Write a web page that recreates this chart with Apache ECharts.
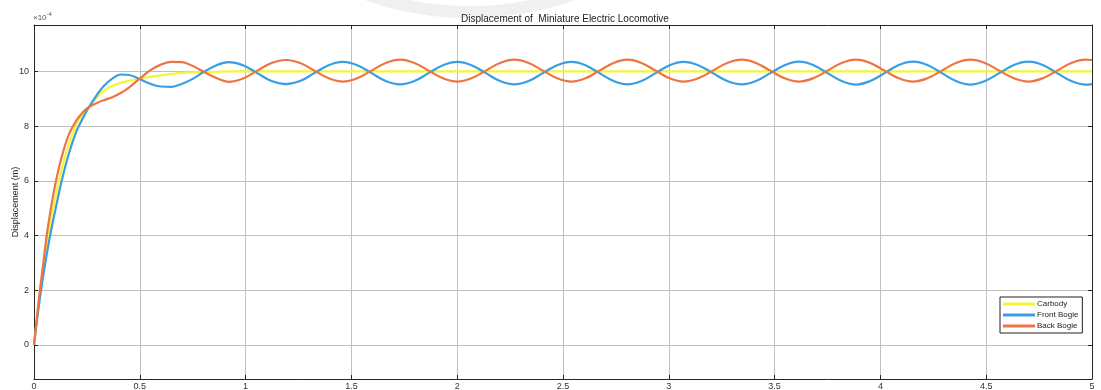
<!DOCTYPE html>
<html>
<head>
<meta charset="utf-8">
<script src="https://cdn.jsdelivr.net/npm/echarts@6/dist/echarts.min.js"></script>
<style>
html,body{margin:0;padding:0;background:#fff;}
#c{width:1101px;height:390px;}
</style>
</head>
<body>
<div id="c"></div>
<script>
// Time samples (s)
const time = [0, 0.01, 0.02, 0.03, 0.045, 0.06, 0.08, 0.10, 0.13, 0.165, 0.20, 0.23, 0.26, 0.295, 0.33, 0.37, 0.41, 0.45, 0.50, 0.55, 0.60, 0.65, 0.70, 0.75, 0.80, 0.86,
  0.92, 0.9875, 1.055, 1.1225, 1.19, 1.2575, 1.325, 1.3925, 1.46, 1.5275, 1.595, 1.6625, 1.73, 1.7975, 1.865, 1.9325,
  2.00, 2.0675, 2.135, 2.2025, 2.27, 2.3375, 2.405, 2.4725, 2.54, 2.606, 2.672, 2.739, 2.805, 2.871, 2.938, 3.004,
  3.07, 3.139, 3.208, 3.276, 3.345, 3.412, 3.48, 3.547, 3.615, 3.682, 3.75, 3.817, 3.885, 3.952, 4.02, 4.087,
  4.155, 4.222, 4.29, 4.357, 4.425, 4.494, 4.562, 4.631, 4.70, 4.767, 4.835, 4.902, 4.97, 5.0];

// Displacement values (x 1e-4 m)
const carbody = [0, 0.68, 1.35, 2.0, 2.85, 3.65, 4.55, 5.35, 6.4, 7.35, 8.05, 8.45, 8.72, 9.03, 9.3, 9.47, 9.59, 9.66, 9.74, 9.8, 9.86, 9.91, 9.95, 9.97, 9.98, 9.99,
  10.0, 10.0, 10.0, 10.0, 10.0, 10.0, 10.0, 10.0, 10.0, 10.0, 10.0, 10.0, 10.0, 10.0, 10.0, 10.0,
  10.0, 10.0, 10.0, 10.0, 10.0, 10.0, 10.0, 10.0, 10.0, 10.0, 10.0, 10.0, 10.0, 10.0, 10.0, 10.0,
  10.0, 10.0, 10.0, 10.0, 10.0, 10.0, 10.0, 10.0, 10.0, 10.0, 10.0, 10.0, 10.0, 10.0, 10.0, 10.0,
  10.0, 10.0, 10.0, 10.0, 10.0, 10.0, 10.0, 10.0, 10.0, 10.0, 10.0, 10.0, 10.0, 10.0];

const frontBogie = [0, 0.65, 1.25, 1.83, 2.6, 3.3, 4.15, 4.9, 5.97, 7.0, 7.8, 8.28, 8.7, 9.12, 9.47, 9.74, 9.89, 9.87, 9.72, 9.55, 9.45, 9.44, 9.55, 9.73, 9.97, 10.22,
  10.34, 10.23, 9.94, 9.65, 9.54, 9.65, 9.94, 10.23, 10.35, 10.23, 9.94, 9.65, 9.53, 9.65, 9.94, 10.23,
  10.35, 10.23, 9.94, 9.65, 9.53, 9.65, 9.94, 10.23, 10.35, 10.23, 9.94, 9.65, 9.53, 9.65, 9.94, 10.23,
  10.35, 10.23, 9.94, 9.65, 9.53, 9.65, 9.94, 10.23, 10.36, 10.24, 9.94, 9.65, 9.52, 9.65, 9.94, 10.24,
  10.36, 10.24, 9.94, 9.65, 9.52, 9.65, 9.94, 10.24, 10.36, 10.24, 9.94, 9.65, 9.52, 9.54];

const backBogie = [0, 0.72, 1.45, 2.13, 3.05, 4.0, 5.0, 5.85, 6.85, 7.7, 8.2, 8.5, 8.7, 8.84, 8.95, 9.06, 9.21, 9.42, 9.74, 10.05, 10.25, 10.35, 10.34, 10.2, 10.0, 9.77,
  9.62, 9.74, 10.03, 10.31, 10.42, 10.31, 10.03, 9.75, 9.63, 9.75, 10.03, 10.31, 10.43, 10.31, 10.03, 9.75,
  9.63, 9.75, 10.03, 10.31, 10.43, 10.31, 10.03, 9.75, 9.63, 9.75, 10.03, 10.31, 10.43, 10.31, 10.03, 9.75,
  9.63, 9.75, 10.03, 10.31, 10.43, 10.31, 10.03, 9.75, 9.63, 9.75, 10.03, 10.31, 10.43, 10.31, 10.03, 9.75,
  9.63, 9.75, 10.03, 10.31, 10.43, 10.31, 10.03, 9.75, 9.63, 9.75, 10.03, 10.31, 10.43, 10.42];

const seriesNames = ['Carbody', 'Front Bogie', 'Back Bogie'];
const seriesColors = ['#f5f536', '#3a9ee4', '#ec7541'];
const seriesValues = [carbody, frontBogie, backBogie];

const FONT = '"Liberation Sans", Arial, sans-serif';
const chart = echarts.init(document.getElementById('c'), null, {renderer: 'canvas'});

const axisLineStyle = {color: '#262626', width: 1};
const gridLineStyle = {color: '#c0c0c0', width: 1};

chart.setOption({
  animation: false,
  backgroundColor: '#ffffff',
  title: {
    text: 'Displacement of  Miniature Electric Locomotive',
    left: 560, top: 9, textAlign: 'center',
    textStyle: {fontFamily: FONT, fontSize: 10, fontWeight: 'normal', color: '#222'}
  },
  legend: {
    data: seriesNames,
    orient: 'vertical',
    left: 1000, top: 297,
    itemWidth: 32, itemHeight: 3, itemGap: 3,
    icon: 'rect',
    padding: [3, 4, 3, 3],
    borderColor: '#222', borderWidth: 1, borderRadius: 0,
    backgroundColor: '#fff',
    textStyle: {fontFamily: FONT, fontSize: 8, color: '#222', padding: [0, 0, 0, -3]}
  },
  grid: {left: 34, right: 9, top: 25, bottom: 11, containLabel: false, outerBoundsMode: 'none'},
  xAxis: [{
    type: 'value', min: 0, max: 5, interval: 0.5,
    axisLine: {show: true, lineStyle: axisLineStyle, onZero: false},
    axisTick: {show: true, inside: true, length: 4, lineStyle: axisLineStyle},
    axisLabel: {fontFamily: FONT, fontSize: 9, color: '#333', margin: 3},
    splitLine: {show: true, lineStyle: gridLineStyle}
  }, {
    type: 'value', min: 0, max: 5, interval: 0.5, position: 'top',
    axisLine: {show: true, lineStyle: axisLineStyle, onZero: false},
    axisTick: {show: true, inside: true, length: 4, lineStyle: axisLineStyle},
    axisLabel: {show: false}, splitLine: {show: false}
  }],
  yAxis: [{
    type: 'value', min: -1.25, max: 11.7, splitNumber: 6, minInterval: 2, maxInterval: 2,
    name: 'Displacement (m)', nameLocation: 'middle', nameGap: 14, nameRotate: 90, nameMoveOverlap: false,
    nameTextStyle: {fontFamily: FONT, fontSize: 9, color: '#222'},
    axisLine: {show: true, lineStyle: axisLineStyle, onZero: false},
    axisTick: {show: true, inside: true, length: 4, lineStyle: axisLineStyle},
    axisLabel: {fontFamily: FONT, fontSize: 9, color: '#333', margin: 5, showMinLabel: false, showMaxLabel: false},
    splitLine: {show: true, lineStyle: gridLineStyle}
  }, {
    type: 'value', min: -1.25, max: 11.7, splitNumber: 6, minInterval: 2, maxInterval: 2, position: 'right',
    axisLine: {show: true, lineStyle: axisLineStyle, onZero: false},
    axisTick: {show: true, inside: true, length: 4, lineStyle: axisLineStyle},
    axisLabel: {show: false}, splitLine: {show: false}
  }],
  graphic: [{
    type: 'arc', silent: true, z: -1,
    shape: {cx: 470, cy: -300, r: 312, startAngle: Math.PI * 0.22, endAngle: Math.PI * 0.80},
    style: {stroke: '#f0f0f0', lineWidth: 12, fill: null}
  }, {
    type: 'text', left: 33, top: 11,
    style: {
      text: '{a|×10}{b|-4}',
      rich: {
        a: {fontFamily: FONT, fontSize: 8, fill: '#555', verticalAlign: 'bottom'},
        b: {fontFamily: FONT, fontSize: 6, fill: '#555', padding: [0, 0, 5, 0]}
      }
    }
  }],
  series: seriesNames.map((name, i) => ({
    name: name,
    type: 'line',
    xAxisIndex: 0, yAxisIndex: 0,
    smooth: 0.4,
    showSymbol: false,
    symbol: 'none',
    lineStyle: {color: seriesColors[i], width: 2.2},
    itemStyle: {color: seriesColors[i]},
    data: time.map((t, k) => [t, seriesValues[i][k]])
  }))
});
</script>
</body>
</html>
